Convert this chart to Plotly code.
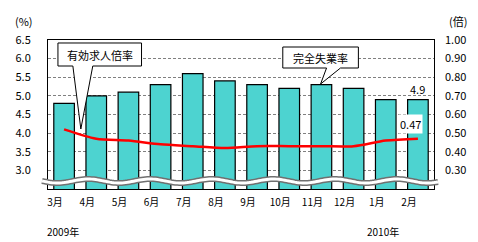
import numpy as np
import plotly.graph_objects as go

# ---- data ----
months = ["3月", "4月", "5月", "6月", "7月", "8月", "9月", "10月", "11月", "12月", "1月", "2月"]
unemployment_rate = [4.8, 5.0, 5.1, 5.3, 5.6, 5.4, 5.3, 5.2, 5.3, 5.2, 4.9, 4.9]
job_offer_ratio = [0.52, 0.47, 0.46, 0.44, 0.43, 0.42, 0.43, 0.43, 0.43, 0.43, 0.46, 0.47]
left_ticks = [3.0, 3.5, 4.0, 4.5, 5.0, 5.5, 6.0, 6.5]
right_ticks = [0.30, 0.40, 0.50, 0.60, 0.70, 0.80, 0.90, 1.00]

FONT = "Noto Sans CJK JP, Noto Sans, sans-serif"
W, H = 478, 242
L, R, T, B = 48, 42, 40, 53
pw, ph = W - L - R, H - T - B


def px(x):
    return (x - L) / pw


def py(y):
    return (H - B - y) / ph


fig = go.Figure()
fig.add_trace(go.Bar(
    x=months, y=unemployment_rate, yaxis="y",
    marker=dict(color="#4DD3D0", line=dict(color="black", width=1.2)),
    showlegend=False,
))
fig.add_trace(go.Scatter(
    x=months, y=job_offer_ratio, yaxis="y2", mode="lines",
    line=dict(color="#FF0000", width=2.5, shape="spline", smoothing=0.8),
    showlegend=False,
))

shapes = []
# wavy axis break
xs = np.linspace(42, 440, 200)
ys = 181 + 2.0 * np.sin(2 * np.pi * (xs - 42) / 62)
wave = "M " + " L ".join(f"{px(a):.5f},{py(b):.5f}" for a, b in zip(xs, ys))
shapes.append(dict(type="path", path=wave, xref="paper", yref="paper",
                   line=dict(color="#707070", width=6), layer="above"))
shapes.append(dict(type="path", path=wave, xref="paper", yref="paper",
                   line=dict(color="white", width=3), layer="above"))


def callout(box, tip, base):
    x0, y0, x1, y1 = box
    b0, b1 = base
    pts = [(x0, y0), (x1, y0), (x1, y1), (b1, y1), tip, (b0, y1), (x0, y1)]
    return "M " + " L ".join(f"{px(a):.5f},{py(b):.5f}" for a, b in pts) + " Z"


shapes.append(dict(type="path", path=callout((58, 43, 142, 66), (81, 129), (73, 93)),
                   xref="paper", yref="paper", fillcolor="white",
                   line=dict(color="black", width=1), layer="above"))
shapes.append(dict(type="path", path=callout((284, 47, 360, 68), (322, 84), (328, 342)),
                   xref="paper", yref="paper", fillcolor="white",
                   line=dict(color="black", width=1), layer="above"))


def label(text, x, y, size=11):
    return dict(text=text, x=px(x), y=py(y), xref="paper", yref="paper",
                xanchor="center", yanchor="middle", showarrow=False,
                font=dict(size=size, family=FONT, color="black"))


annotations = [
    label("有効求人倍率", 100, 55),
    label("完全失業率", 322, 58),
    label("(%)", 24, 21),
    label("(倍)", 460, 21),
    label("2009年", 63, 231, 10),
    label("2010年", 385, 231, 10),
    dict(text=f"{unemployment_rate[-1]:.1f}", x=months[-1], y=unemployment_rate[-1],
         xref="x", yref="y", yanchor="bottom", yshift=1, showarrow=False,
         font=dict(size=11, family=FONT, color="black")),
    dict(text=f"{job_offer_ratio[-1]:.2f}", x=months[-1], y=job_offer_ratio[-1],
         xref="x", yref="y2", yshift=15, xshift=-7, showarrow=False, bgcolor="white",
         font=dict(size=11, family=FONT, color="black")),
]

fig.update_layout(
    width=W, height=H,
    margin=dict(l=L, r=R, t=T, b=B),
    paper_bgcolor="white", plot_bgcolor="white",
    bargap=0.36,
    font=dict(family=FONT, size=11, color="black"),
    xaxis=dict(type="category", showgrid=False, showline=True, linecolor="black",
               linewidth=1, mirror=True, ticks="", ticklabelshift=-9,
               ticklabelstandoff=4, tickfont=dict(size=10, family=FONT)),
    yaxis=dict(range=[2.5, 6.5], tickvals=left_ticks,
               ticktext=[f"{v:.1f}" for v in left_ticks],
               showgrid=True, gridcolor="#808080", griddash="3px,2px", gridwidth=1,
               showline=True, linecolor="black", linewidth=1, mirror=True,
               ticks="", ticklabelstandoff=14, zeroline=False,
               tickfont=dict(size=11, family=FONT)),
    yaxis2=dict(range=[0.2, 1.0], tickvals=right_ticks,
                ticktext=[f"{v:.2f}" for v in right_ticks],
                overlaying="y", side="right", showgrid=False, zeroline=False,
                ticks="", ticklabelstandoff=10, tickfont=dict(size=11, family=FONT)),
    shapes=shapes,
    annotations=annotations,
)

fig.write_html("out.html")
